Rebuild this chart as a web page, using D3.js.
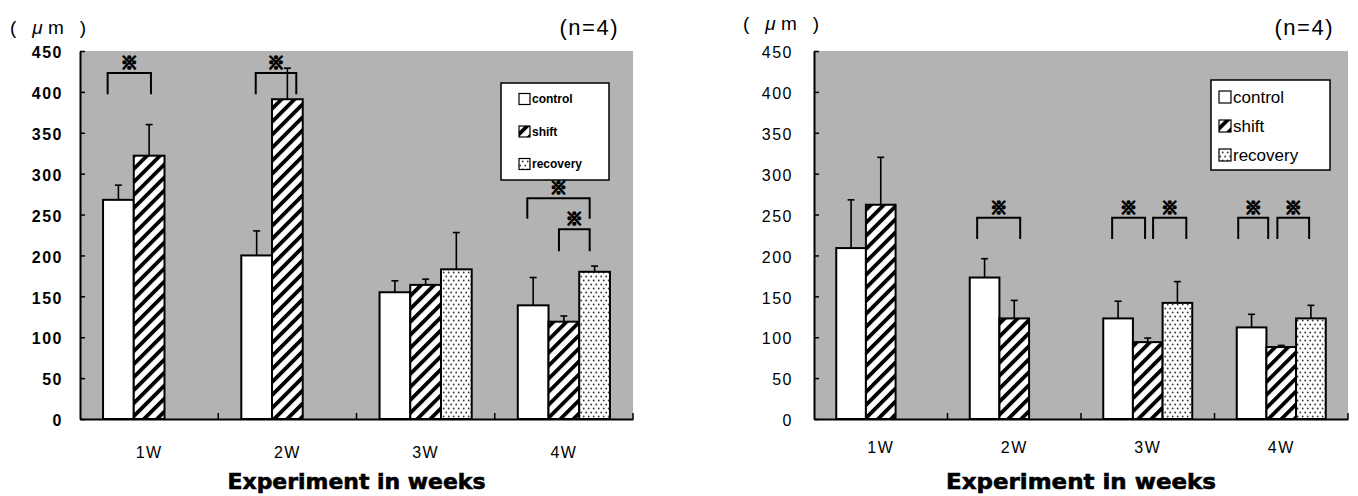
<!DOCTYPE html>
<html>
<head>
<meta charset="utf-8">
<script src="https://cdn.jsdelivr.net/npm/d3@7"></script>
<style>
  body { margin: 0; background: #fff; }
  svg { display: block; }
  text { font-family: "Liberation Sans", Arial, sans-serif; }
</style>
</head>
<body>
<div id="chart"></div>
<script>
// ---- data ----
const weeks = ["1W", "2W", "3W", "4W"];
const groups = ["control", "shift", "recovery"];
const yTicks = [0, 50, 100, 150, 200, 250, 300, 350, 400, 450];

// left panel (means and upward error)
const leftControl = [268, 200, 155, 139];
const leftShift = [322, 391, 164, 119];
const leftRecovery = [null, null, 183, 180];
const leftControlErr = [18, 30, 14, 34];
const leftShiftErr = [38, 38, 7, 7];
const leftRecoveryErr = [null, null, 45, 7];

// right panel
const rightControl = [209, 173, 123, 112];
const rightShift = [262, 123, 94, 88];
const rightRecovery = [null, null, 142, 123];
const rightControlErr = [59, 23, 21, 16];
const rightShiftErr = [58, 22, 5, 2];
const rightRecoveryErr = [null, null, 26, 16];

// significance brackets: ends in bar units inside the week group, heights in µm
const leftBrackets = [
    { week: "1W", from: 0.15, to: 1.56, top: 423, leg: 397 },
    { week: "2W", from: 0.47, to: 1.79, top: 423, leg: 397 },
    { week: "4W", from: 0.31, to: 2.34, top: 270, leg: 245 },
    { week: "4W", from: 1.34, to: 2.34, top: 232, leg: 205 }
];
const rightBrackets = [
    { week: "2W", from: 0.25, to: 1.70, top: 246, leg: 220 },
    { week: "3W", from: 0.30, to: 1.41, top: 246, leg: 220 },
    { week: "3W", from: 1.68, to: 2.80, top: 246, leg: 220 },
    { week: "4W", from: 0.05, to: 1.06, top: 246, leg: 220 },
    { week: "4W", from: 1.37, to: 2.44, top: 246, leg: 220 }
];

const svg = d3.select("#chart").append("svg")
    .attr("width", 1358)
    .attr("height", 496);

// fill patterns
const defs = svg.append("defs");
const hatch = defs.append("pattern")
    .attr("id", "hatch")
    .attr("patternUnits", "userSpaceOnUse")
    .attr("width", 9.2).attr("height", 9.2)
    .attr("patternTransform", "rotate(45)");
hatch.append("rect").attr("width", 9.2).attr("height", 9.2).attr("fill", "#fff");
hatch.append("rect").attr("x", 0).attr("width", 3.8).attr("height", 9.2).attr("fill", "#000");

const dots = defs.append("pattern")
    .attr("id", "dots")
    .attr("patternUnits", "userSpaceOnUse")
    .attr("width", 5).attr("height", 8);
dots.append("rect").attr("width", 5).attr("height", 8).attr("fill", "#fff");
dots.append("circle").attr("cx", 1.2).attr("cy", 1.5).attr("r", 0.9).attr("fill", "#333");
dots.append("circle").attr("cx", 3.7).attr("cy", 5.5).attr("r", 0.9).attr("fill", "#333");

const fills = { control: "#fff", shift: "url(#hatch)", recovery: "url(#dots)" };

function drawPanel(cfg) {
    const g = svg.append("g").attr("transform", `translate(${cfg.left}, ${cfg.top})`);
    const W = cfg.width, H = cfg.height;

    const x = d3.scaleBand().domain(weeks).range([0, W]);
    const sub = d3.scaleBand().domain(groups)
        .range([x.bandwidth() / 6, x.bandwidth() * 5 / 6]);
    const y = d3.scaleLinear().domain([0, 450]).range([H, 0]);

    // gray plot area
    g.append("rect").attr("width", W).attr("height", H).attr("fill", "#b3b3b3");

    const rows = [];
    weeks.forEach((w, i) => {
        groups.forEach((k, j) => {
            const v = cfg.means[j][i];
            if (v != null) rows.push({ week: w, group: k, value: v, err: cfg.errs[j][i] });
        });
    });

    // error bars (upward only)
    const eb = g.selectAll(".err").data(rows).join("g").attr("class", "err")
        .attr("stroke", "#000").attr("stroke-width", 1.6);
    eb.append("line")
        .attr("x1", d => x(d.week) + sub(d.group) + sub.bandwidth() / 2)
        .attr("x2", d => x(d.week) + sub(d.group) + sub.bandwidth() / 2)
        .attr("y1", d => y(d.value))
        .attr("y2", d => y(d.value + d.err));
    eb.append("line")
        .attr("x1", d => x(d.week) + sub(d.group) + sub.bandwidth() / 2 - 3.5)
        .attr("x2", d => x(d.week) + sub(d.group) + sub.bandwidth() / 2 + 3.5)
        .attr("y1", d => y(d.value + d.err))
        .attr("y2", d => y(d.value + d.err));

    // bars
    g.selectAll(".bar").data(rows).join("rect").attr("class", "bar")
        .attr("x", d => x(d.week) + sub(d.group))
        .attr("y", d => y(d.value))
        .attr("width", sub.bandwidth())
        .attr("height", d => H - y(d.value))
        .attr("fill", d => fills[d.group])
        .attr("stroke", "#000")
        .attr("stroke-width", 2);

    // brackets and marks
    const bx = (d, t) => x(d.week) + sub.range()[0] + t * sub.step();
    g.selectAll(".bracket").data(cfg.brackets).join("path").attr("class", "bracket")
        .attr("fill", "none").attr("stroke", "#000").attr("stroke-width", 2)
        .attr("d", d => `M${bx(d, d.from)},${y(d.leg)}V${y(d.top)}H${bx(d, d.to)}V${y(d.leg)}`);
    g.selectAll(".mark").data(cfg.brackets).join("text").attr("class", "mark")
        .attr("x", d => (bx(d, d.from) + bx(d, d.to)) / 2)
        .attr("y", d => y(d.top) - 10)
        .attr("dy", "0.36em")
        .attr("text-anchor", "middle")
        .attr("fill", "#000")
        .attr("stroke", "#000")
        .attr("stroke-width", 1.6)
        .style("font-family", "'Noto Sans CJK JP', sans-serif")
        .style("font-weight", "bold")
        .style("font-size", "17px")
        .text("※");

    // y axis
    const yAxis = g.append("g")
        .call(d3.axisLeft(y).tickValues(yTicks).tickSizeInner(-5).tickSizeOuter(0).tickPadding(cfg.yPad));
    yAxis.select(".domain").attr("stroke-width", 2);
    yAxis.selectAll(".tick line").attr("stroke-width", 1.5);
    yAxis.selectAll(".tick text")
        .attr("dy", "0.42em")
        .style("font-size", "16px")
        .style("font-weight", cfg.tickWeight)
        .style("letter-spacing", "1.5px")
        .attr("fill", "#000");

    // x axis: labels centred, ticks between weeks
    const xAxis = g.append("g").attr("transform", `translate(0, ${H})`)
        .call(d3.axisBottom(x).tickSize(0).tickPadding(cfg.xPad));
    xAxis.select(".domain").attr("stroke-width", 2);
    xAxis.selectAll(".tick text")
        .style("font-size", "16px")
        .style("letter-spacing", "1.5px")
        .attr("fill", "#000");
    g.selectAll(".xsep").data(weeks.slice(1).concat(["end"])).join("line").attr("class", "xsep")
        .attr("x1", d => d === "end" ? W : x(d))
        .attr("x2", d => d === "end" ? W : x(d))
        .attr("y1", H).attr("y2", H - 6)
        .attr("stroke", "#000").attr("stroke-width", 1.5);

    // axis title
    g.append("text")
        .attr("x", W / 2)
        .attr("y", H + 70)
        .attr("text-anchor", "middle")
        .attr("textLength", cfg.titleLen)
        .attr("lengthAdjust", "spacingAndGlyphs")
        .attr("stroke", "#000")
        .attr("stroke-width", 0.6)
        .style("font-family", "'DejaVu Sans', sans-serif")
        .style("font-weight", "bold")
        .style("font-size", "21px")
        .text("Experiment in weeks");

    // unit and n
    const unit = g.append("text")
        .attr("x", cfg.unitX).attr("y", cfg.unitY)
        .style("font-size", "19px");
    unit.append("tspan").text("( ");
    unit.append("tspan").style("font-style", "italic").text("μ");
    unit.append("tspan").text("m )");
    unit.attr("textLength", 76).attr("lengthAdjust", "spacing");
    g.append("text")
        .attr("x", W - 14).attr("y", -16)
        .attr("text-anchor", "end")
        .style("font-size", "22px")
        .style("letter-spacing", "1.5px")
        .text("(n=4)");

    // legend
    const L = cfg.legend;
    const lg = g.append("g").attr("transform", `translate(${L.x}, ${L.y})`);
    lg.append("rect").attr("width", L.w).attr("height", L.h)
        .attr("fill", "#fff").attr("stroke", "#000").attr("stroke-width", 1.5);
    const item = lg.selectAll(".item").data(groups).join("g").attr("class", "item")
        .attr("transform", (d, i) => `translate(${L.pad}, ${L.first + i * L.step})`);
    item.append("rect")
        .attr("x", 0).attr("y", -L.box / 2)
        .attr("width", L.box).attr("height", L.box)
        .attr("fill", d => fills[d]).attr("stroke", "#000").attr("stroke-width", 1.2);
    item.append("text")
        .attr("x", L.box + 2)
        .attr("dy", "0.35em")
        .style("font-size", L.font + "px")
        .style("font-weight", L.weight)
        .text(d => d);
}

drawPanel({
    left: 80, top: 51, width: 553, height: 368,
    means: [leftControl, leftShift, leftRecovery],
    errs: [leftControlErr, leftShiftErr, leftRecoveryErr],
    brackets: leftBrackets,
    yPad: 17, xPad: 28, tickWeight: "bold", titleLen: 258,
    unitX: -70, unitY: -17,
    legend: { x: 421, y: 32, w: 108, h: 97, pad: 18, first: 16, step: 32.5, box: 11, font: 12, weight: "bold" }
});

drawPanel({
    left: 814, top: 51, width: 534, height: 368,
    means: [rightControl, rightShift, rightRecovery],
    errs: [rightControlErr, rightShiftErr, rightRecoveryErr],
    brackets: rightBrackets,
    yPad: 21, xPad: 23, tickWeight: "normal", titleLen: 270,
    unitX: -71, unitY: -21,
    legend: { x: 397, y: 29, w: 119, h: 90, pad: 8, first: 17, step: 29, box: 12, font: 17, weight: "normal" }
});
</script>
</body>
</html>
